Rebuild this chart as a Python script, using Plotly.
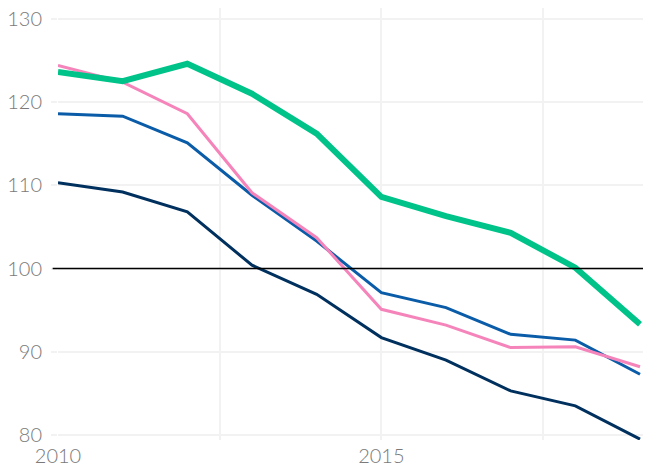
import plotly.graph_objects as go

years = [2010, 2011, 2012, 2013, 2014, 2015, 2016, 2017, 2018, 2019]
green = [123.6, 122.5, 124.6, 121.0, 116.2, 108.6, 106.3, 104.3, 100.1, 93.3]
pink = [124.4, 122.4, 118.6, 109.1, 103.7, 95.1, 93.2, 90.5, 90.6, 88.2]
blue = [118.6, 118.3, 115.1, 108.8, 103.3, 97.1, 95.3, 92.1, 91.4, 87.3]
navy = [110.3, 109.2, 106.8, 100.4, 96.9, 91.7, 89.0, 85.3, 83.5, 79.5]

x_tickvals = [2010, 2012.5, 2015, 2017.5]
x_ticktext = ["2010", "", "2015", ""]
y_tickvals = [80, 90, 100, 110, 120, 130]

fig = go.Figure()
fig.add_trace(go.Scatter(x=years, y=navy, mode="lines", line=dict(color="#00305e", width=3)))
fig.add_trace(go.Scatter(x=years, y=blue, mode="lines", line=dict(color="#0a5ca8", width=3)))
fig.add_trace(go.Scatter(x=years, y=pink, mode="lines", line=dict(color="#f584bb", width=3)))
fig.add_trace(go.Scatter(x=years, y=green, mode="lines", line=dict(color="#00c389", width=6)))

fig.add_shape(type="line", xref="paper", yref="y", x0=-0.009, x1=1, y0=100, y1=100,
              line=dict(color="#000000", width=1.5), layer="above")

fig.update_layout(
    width=651, height=466,
    margin=dict(l=50, r=8, t=0, b=34),
    paper_bgcolor="white", plot_bgcolor="white",
    showlegend=False,
    font=dict(family="Lato", size=20, color="#7a7a7a", weight=300),
    xaxis=dict(range=[2010, 2019.17], tickvals=x_tickvals, ticktext=x_ticktext,
               showgrid=True, gridcolor="#f2f2f2", gridwidth=2, zeroline=False,
               ticks="", showline=False, ticklabelstandoff=2, automargin=False,
               ticklabeloverflow="allow"),
    yaxis=dict(range=[79.4, 131.3], tickvals=y_tickvals,
               showgrid=True, gridcolor="#f2f2f2", gridwidth=2, zeroline=False,
               ticks="outside", ticklen=6, tickcolor="#f2f2f2", tickwidth=2,
               ticklabelstandoff=5, showline=False, automargin=False,
               ticklabeloverflow="allow"),
)

fig.write_html("out.html")
